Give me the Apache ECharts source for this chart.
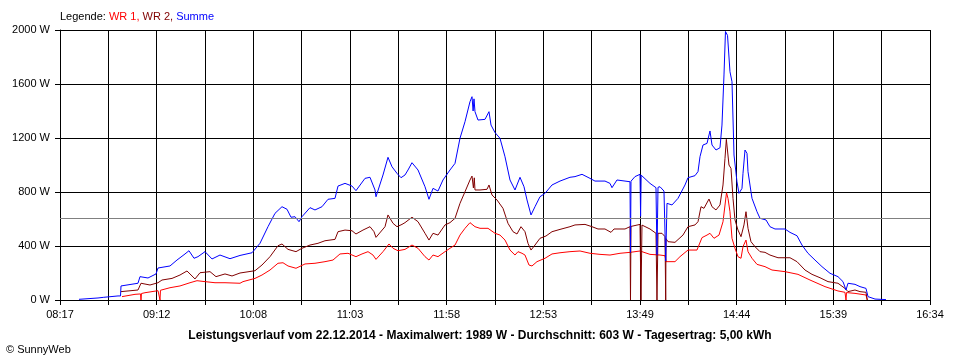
<!DOCTYPE html>
<html>
<head>
<meta charset="utf-8">
<script src="https://cdn.jsdelivr.net/npm/echarts@6/dist/echarts.min.js"></script>
<style>
html,body{margin:0;padding:0;background:#fff;}
#chart{width:960px;height:360px;}
</style>
</head>
<body>
<div id="chart"></div>
<script>
// ---- tick labels (x axis every second grid line) ----
const timeLabels = ['08:17','09:12','10:08','11:03','11:58','12:53','13:49','14:44','15:39','16:34'];
const yMax = 2000;
const yStep = 400;
const averageW = 603;
const titleText = 'Leistungsverlauf vom 22.12.2014 - Maximalwert: 1989 W - Durchschnitt: 603 W - Tagesertrag: 5,00 kWh';

// ---- WR 1 (red) [time, W] ----
const wr1 = [
['08:52:25',25],['08:59:51',42],['09:03:00',45],['09:03:16',0],['09:03:32',48],['09:05:33',54],['09:12:59',69],['09:13:52',70],['09:14:08',0],['09:14:24',72],
['09:19:50',91],['09:25:33',104],['09:31:16',128],['09:35:16',143],['09:39:50',136],['09:45:33',128],['09:51:16',128],['09:59:50',124],['10:01:32',136],['10:08:24',160],
['10:12:23',185],['10:16:58',222],['10:21:32',272],['10:24:23',276],['10:27:15',252],['10:31:49',235],['10:36:58',267],['10:42:40',272],['10:48:23',284],['10:52:57',296],
['10:56:57',341],['11:01:31',346],['11:06:05',321],['11:09:31',341],['11:12:57',358],['11:15:48',333],['11:17:31',301],['11:21:31',358],['11:24:56',415],['11:27:14',383],
['11:30:05',365],['11:34:05',375],['11:38:05',407],['11:41:31',383],['11:45:31',321],['11:47:47',296],['11:50:05',333],['11:52:56',321],['11:56:56',358],['11:59:47',383],
['12:02:39',407],['12:05:30',481],['12:08:22',531],['12:11:13',573],['12:14:04',543],['12:16:56',531],['12:21:30',531],['12:25:30',494],['12:28:21',481],['12:31:13',444],
['12:34:04',370],['12:36:55',333],['12:38:38',358],['12:40:55',346],['12:42:38',333],['12:44:55',259],['12:46:38',252],['12:49:29',284],['12:54:04',309],['12:58:04',341],
['13:02:38',350],['13:08:20',358],['13:14:04',363],['13:19:46',346],['13:25:29',338],['13:31:11',333],['13:36:55',346],['13:42:37',353],['13:48:20',363],['13:54:02',338],
['13:59:46',333],['14:02:37',328],['14:03:11',284],['14:08:19',284],['14:11:11',321],['14:15:45',370],['14:20:53',370],['14:23:45',462],['14:26:37',481],['14:28:19',494],
['14:30:36',457],['14:33:28',481],['14:35:45',580],['14:37:45',795],['14:38:36',753],['14:39:44',654],['14:40:53',457],['14:42:36',383],['14:44:19',321],['14:46:02',309],
['14:47:10',395],['14:48:53',444],['14:50:02',358],['14:52:19',309],['14:55:10',264],['14:59:44',247],['15:03:44',222],['15:11:10',210],['15:18:35',190],['15:25:27',148],
['15:34:01',99],['15:41:26',67],['15:45:26',57],['15:45:45',57],['15:46:01',0],['15:46:18',55],['15:51:09',49],['15:57:26',37],['15:58:00',35],['15:58:10',0]
];

// ---- WR 2 (dark red) [time, W] ----
const wr2 = [
['08:51:51',62],['09:01:33',74],['09:03:16',124],['09:08:25',111],['09:12:59',128],['09:15:16',148],['09:20:59',160],['09:25:33',185],['09:29:33',215],['09:34:07',156],
['09:36:59',202],['09:42:41',210],['09:46:07',173],['09:51:16',193],['09:55:16',178],['09:59:50',200],['10:08:24',217],['10:12:23',259],['10:16:58',321],['10:21:32',402],
['10:23:49',415],['10:27:15',375],['10:31:49',358],['10:35:14',383],['10:39:49',407],['10:44:23',420],['10:48:23',439],['10:54:06',449],['10:55:49',506],['10:59:49',518],
['11:03:49',513],['11:06:05',489],['11:10:05',518],['11:14:05',543],['11:16:23',506],['11:17:31',464],['11:22:40',543],['11:24:22',630],['11:27:14',568],['11:29:31',543],
['11:32:22',560],['11:34:05',573],['11:38:05',613],['11:41:31',580],['11:45:31',494],['11:47:47',444],['11:50:05',494],['11:52:56',481],['11:56:56',556],['11:59:47',573],
['12:02:39',605],['12:05:30',716],['12:08:22',802],['12:11:13',889],['12:12:22',918],['12:13:10',830],['12:13:40',905],['12:14:04',815],['12:16:56',815],['12:20:56',820],
['12:22:04',852],['12:23:47',778],['12:26:38',741],['12:30:04',679],['12:32:55',568],['12:35:47',506],['12:38:04',489],['12:40:21',543],['12:42:38',506],['12:44:21',420],
['12:46:04',370],['12:48:21',407],['12:51:12',457],['12:54:38',474],['12:58:04',506],['13:02:38',523],['13:08:20',543],['13:11:12',556],['13:16:55',560],['13:20:55',543],
['13:24:20',526],['13:28:20',526],['13:31:46',501],['13:33:29',526],['13:39:46',526],['13:42:37',543],['13:42:54',0],['13:43:11',545],['13:48:20',560],['13:48:54',0],
['13:49:28',555],['13:54:02',526],['13:57:28',494],['13:58:02',0],['13:58:37',494],['14:00:54',494],['14:02:37',469],['14:03:01',0],['14:03:11',455],['14:04:20',432],
['14:08:19',427],['14:12:53',481],['14:15:45',543],['14:19:45',556],['14:21:28',580],['14:23:11',691],['14:24:53',679],['14:27:45',748],['14:29:28',691],['14:31:45',667],
['14:34:02',704],['14:35:45',852],['14:36:53',1049],['14:37:40',1190],['14:39:10',1000],['14:40:19',975],['14:41:28',753],['14:42:36',593],['14:44:19',518],['14:46:02',469],
['14:47:44',556],['14:48:53',654],['14:50:02',531],['14:51:44',432],['14:54:02',395],['14:56:53',358],['14:59:44',353],['15:02:35',333],['15:07:10',313],['15:14:01',313],
['15:18:01',284],['15:22:35',222],['15:26:35',190],['15:31:10',165],['15:35:44',136],['15:41:26',124],['15:45:26',86],['15:47:09',62],['15:51:09',74],['15:54:01',62],
['15:57:26',57],['15:58:00',55],['15:58:10',0]
];

// ---- Summe (blue) [time, W] ----
const summe = [
['08:27:51',5],['08:38:43',15],['08:42:00',20],['08:50:08',30],['08:51:34',30],['08:51:51',104],['09:01:33',124],['09:02:42',173],['09:07:16',163],['09:11:51',193],
['09:12:59',237],['09:19:50',252],['09:23:50',296],['09:28:25',341],['09:30:41',365],['09:33:33',309],['09:35:50',321],['09:39:50',358],['09:43:50',304],['09:48:24',333],
['09:54:07',306],['09:59:50',330],['10:06:41',350],['10:11:15',420],['10:15:49',543],['10:19:49',642],['10:23:49',691],['10:26:41',672],['10:28:58',613],['10:31:15',617],
['10:33:32',580],['10:35:14',617],['10:39:49',684],['10:42:40',667],['10:46:40',691],['10:50:06',746],['10:54:06',753],['10:55:49',844],['10:59:49',864],['11:03:49',844],
['11:06:05',810],['11:11:14',901],['11:14:05',909],['11:16:57',815],['11:17:31',765],['11:21:31',926],['11:24:22',1057],['11:26:40',987],['11:29:31',938],['11:31:48',906],
['11:34:05',926],['11:35:48',963],['11:38:05',1017],['11:41:31',963],['11:45:31',839],['11:47:47',746],['11:50:05',827],['11:52:56',807],['11:55:47',889],['11:59:47',963],
['12:02:39',1012],['12:05:30',1198],['12:08:22',1321],['12:11:13',1469],['12:12:22',1506],['12:13:00',1400],['12:13:30',1490],['12:14:04',1395],['12:15:47',1333],['12:19:47',1338],
['12:22:04',1395],['12:23:13',1296],['12:25:30',1240],['12:28:21',1198],['12:31:13',1061],['12:34:04',889],['12:36:55',815],['12:39:47',909],['12:42:04',839],['12:43:47',741],
['12:46:04',630],['12:48:21',691],['12:51:12',765],['12:54:04',790],['12:58:04',852],['13:02:38',881],['13:08:20',909],['13:11:12',914],['13:15:12',931],['13:19:46',901],
['13:22:37',881],['13:28:20',881],['13:31:11',864],['13:32:20',832],['13:35:11',889],['13:39:46',881],['13:42:37',876],['13:42:54',353],['13:43:11',880],['13:45:28',914],
['13:48:20',931],['13:48:40',620],['13:49:00',925],['13:50:02',921],['13:54:02',864],['13:57:28',832],['13:58:02',335],['13:58:37',835],['13:59:46',839],['14:02:02',807],
['14:03:01',290],['14:03:45',716],['14:06:37',704],['14:10:02',753],['14:14:02',852],['14:15:45',906],['14:19:45',921],['14:21:28',951],['14:22:37',1062],['14:24:19',1148],
['14:26:37',1160],['14:28:19',1252],['14:29:28',1148],['14:31:45',1111],['14:34:02',1128],['14:35:10',1296],['14:36:19',1667],['14:37:10',1989],['14:38:20',1960],['14:39:44',1691],
['14:40:53',1617],['14:42:02',1074],['14:43:44',876],['14:44:53',790],['14:46:36',827],['14:47:10',938],['14:48:19',1111],['14:49:28',1086],['14:50:02',951],['14:51:44',802],
['14:52:19',753],['14:55:10',654],['14:56:53',605],['15:00:19',593],['15:02:35',543],['15:05:27',526],['15:11:10',526],['15:14:01',501],['15:18:01',476],['15:20:52',407],
['15:24:18',346],['15:28:18',296],['15:32:18',247],['15:36:52',198],['15:41:26',173],['15:44:18',136],['15:46:01',74],['15:47:09',124],['15:51:09',116],['15:54:01',99],
['15:57:26',86],['15:58:35',25],['16:02:35',7],['16:08:52',3]
];

// ---- helpers ----
function toMin(s){ const p = s.split(':').map(Number); return p[0]*60 + p[1] + (p[2]||0)/60; }
const nSteps = (timeLabels.length - 1) * 2;           // grid lines every half label interval
const tStart = toMin(timeLabels[0]);
const tEnd = toMin(timeLabels[timeLabels.length - 1]);
function toAxis(rows){ return rows.map(r => [ (toMin(r[0]) - tStart) / (tEnd - tStart) * nSteps, r[1] ]); }

const FONT = 'Liberation Sans, Arial, sans-serif';
const chart = echarts.init(document.getElementById('chart'), null, {renderer:'canvas'});
chart.setOption({
  animation: false,
  backgroundColor: '#ffffff',
  title: [
    { left: 60, top: 11, padding: 0, text: '{k|Legende:} {a|WR 1,} {b|WR 2,} {c|Summe}',
      textStyle: { fontFamily: FONT, fontSize: 11, fontWeight: 'normal',
        rich: { k:{color:'#000000',fontFamily:FONT,fontSize:11}, a:{color:'#ff0000',fontFamily:FONT,fontSize:11},
                b:{color:'#800000',fontFamily:FONT,fontSize:11}, c:{color:'#0000ff',fontFamily:FONT,fontSize:11} } } },
    { left: 'center', top: 330, padding: 0, text: titleText,
      textStyle: { fontFamily: FONT, fontSize: 12, fontWeight: 'bold', color: '#000000' } },
    { left: 6, top: 344, padding: 0, text: '\u00a9 SunnyWeb',
      textStyle: { fontFamily: FONT, fontSize: 11, fontWeight: 'normal', color: '#000000' } }
  ],
  grid: { left: 60, right: 30, top: 30, bottom: 60, containLabel: false },
  xAxis: {
    type: 'value', min: 0, max: nSteps, interval: 1,
    axisLine: { show: true, lineStyle: { color: '#000000', width: 1 } },
    axisTick: { show: true, length: 5, lineStyle: { color: '#000000', width: 1 } },
    splitLine: { show: true, lineStyle: { color: '#000000', width: 1 } },
    axisLabel: { color: '#000000', fontFamily: FONT, fontSize: 11, margin: 9, showMinLabel: true, showMaxLabel: true,
      formatter: function(v){ const k = Math.round(v); return (k % 2 === 0) ? timeLabels[k/2] : ''; } }
  },
  yAxis: {
    type: 'value', min: 0, max: yMax, interval: yStep,
    axisLine: { show: true, lineStyle: { color: '#000000', width: 1 } },
    axisTick: { show: true, length: 5, lineStyle: { color: '#000000', width: 1 } },
    splitLine: { show: true, lineStyle: { color: '#000000', width: 1 } },
    axisLabel: { color: '#000000', fontFamily: FONT, fontSize: 11, margin: 10, formatter: function(v){ return String(v) + ' W'; } }
  },
  series: [
    { name: 'WR 1', type: 'line', data: toAxis(wr1), showSymbol: false, symbol: 'none',
      lineStyle: { color: '#ff0000', width: 1 }, itemStyle: { color: '#ff0000' },
      markLine: { silent: true, symbol: 'none', label: { show: false },
        lineStyle: { color: '#808080', width: 1, type: 'solid' }, data: [ { yAxis: averageW } ] } },
    { name: 'WR 2', type: 'line', data: toAxis(wr2), showSymbol: false, symbol: 'none',
      lineStyle: { color: '#800000', width: 1 }, itemStyle: { color: '#800000' } },
    { name: 'Summe', type: 'line', data: toAxis(summe), showSymbol: false, symbol: 'none',
      lineStyle: { color: '#0000ff', width: 1 }, itemStyle: { color: '#0000ff' } }
  ]
});
</script>
</body>
</html>
